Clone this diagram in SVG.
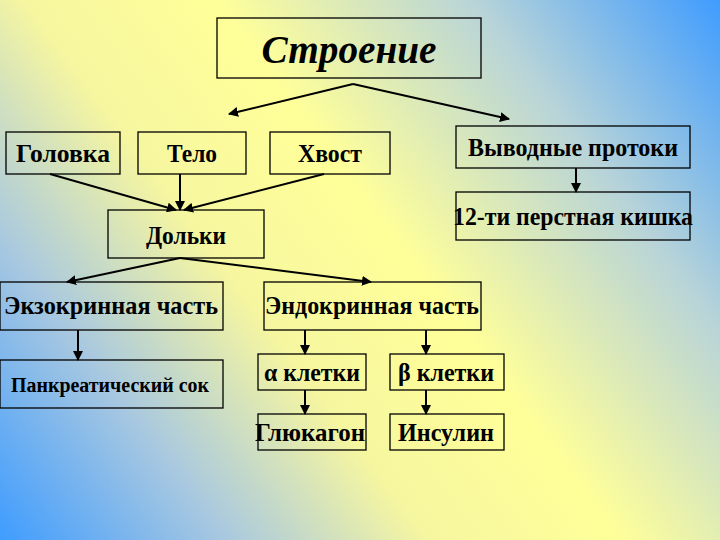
<svg xmlns="http://www.w3.org/2000/svg" width="720" height="540" viewBox="0 0 720 540">
<defs>
<linearGradient id="bg" gradientUnits="userSpaceOnUse" x1="720" y1="0" x2="0" y2="540">
<stop offset="0" stop-color="#3f9cff"/>
<stop offset="0.22" stop-color="#b8d4d8"/>
<stop offset="0.45" stop-color="#ffff99"/>
<stop offset="0.62" stop-color="#f6f6a0"/>
<stop offset="0.8" stop-color="#a8c8e0"/>
<stop offset="1" stop-color="#3f9cff"/>
</linearGradient>
<marker id="ah" viewBox="0 0 10 10" refX="9" refY="5" markerWidth="5" markerHeight="5" orient="auto"><path d="M0,0 L10,5 L0,10 z" fill="#000"/></marker>
</defs>
<style>
.b{fill:none;stroke:#000;stroke-width:1.3}
.t{font-family:"Liberation Serif","Times New Roman",serif;font-weight:bold;font-size:25px;text-anchor:middle;fill:#000}
.c line{stroke:#000;stroke-width:2;marker-end:url(#ah)}
</style>
<rect width="720" height="540" fill="url(#bg)"/>
<g id="n-title"><rect class="b" x="217" y="18" width="264" height="60"/><text class="t" x="349" y="63" style="font-style:italic;font-size:40px" textLength="175" lengthAdjust="spacingAndGlyphs">Строение</text></g>
<g id="n-golovka"><rect class="b" x="6" y="132" width="114" height="42"/><text class="t" x="63" y="162" textLength="94" lengthAdjust="spacingAndGlyphs">Головка</text></g>
<g id="n-telo"><rect class="b" x="138" y="132" width="108" height="42"/><text class="t" x="192" y="162" textLength="50" lengthAdjust="spacingAndGlyphs">Тело</text></g>
<g id="n-hvost"><rect class="b" x="270" y="132" width="120" height="42"/><text class="t" x="330" y="162" textLength="64" lengthAdjust="spacingAndGlyphs">Хвост</text></g>
<g id="n-vyvod"><rect class="b" x="456" y="126" width="234" height="42"/><text class="t" x="573" y="156" textLength="210" lengthAdjust="spacingAndGlyphs">Выводные протоки</text></g>
<g id="n-kishka"><rect class="b" x="456" y="192" width="234" height="48"/><text class="t" x="573" y="225" textLength="240" lengthAdjust="spacingAndGlyphs">12-ти перстная кишка</text></g>
<g id="n-dolki"><rect class="b" x="108" y="210" width="156" height="48"/><text class="t" x="186" y="244" textLength="80" lengthAdjust="spacingAndGlyphs">Дольки</text></g>
<g id="n-exo"><rect class="b" x="0" y="282" width="223" height="48"/><text class="t" x="111" y="314" textLength="214" lengthAdjust="spacingAndGlyphs">Экзокринная часть</text></g>
<g id="n-endo"><rect class="b" x="264" y="282" width="217" height="48"/><text class="t" x="372" y="314" textLength="214" lengthAdjust="spacingAndGlyphs">Эндокринная часть</text></g>
<g id="n-sok"><rect class="b" x="0" y="360" width="223" height="48"/><text class="t" x="110" y="392" style="font-size:20px" textLength="198" lengthAdjust="spacingAndGlyphs">Панкреатический сок</text></g>
<g id="n-alpha"><rect class="b" x="258" y="354" width="108" height="36"/><text class="t" x="312" y="381" textLength="96" lengthAdjust="spacingAndGlyphs">α клетки</text></g>
<g id="n-beta"><rect class="b" x="390" y="354" width="114" height="36"/><text class="t" x="446" y="381" textLength="96" lengthAdjust="spacingAndGlyphs">β клетки</text></g>
<g id="n-gluk"><rect class="b" x="258" y="414" width="108" height="36"/><text class="t" x="310" y="441" textLength="110" lengthAdjust="spacingAndGlyphs">Глюкагон</text></g>
<g id="n-insul"><rect class="b" x="390" y="414" width="114" height="36"/><text class="t" x="446" y="441" textLength="96" lengthAdjust="spacingAndGlyphs">Инсулин</text></g>
<g id="connectors" class="c">
<line x1="353" y1="84" x2="229" y2="114"/>
<line x1="353" y1="84" x2="509" y2="119"/>
<line x1="50" y1="174" x2="176" y2="210"/>
<line x1="180" y1="174" x2="180" y2="210"/>
<line x1="324" y1="174" x2="184" y2="210"/>
<line x1="576" y1="168" x2="576" y2="192"/>
<line x1="180" y1="258" x2="67" y2="282"/>
<line x1="180" y1="258" x2="371" y2="282"/>
<line x1="78" y1="330" x2="78" y2="360"/>
<line x1="305" y1="330" x2="305" y2="354"/>
<line x1="426" y1="330" x2="426" y2="354"/>
<line x1="305" y1="390" x2="305" y2="414"/>
<line x1="426" y1="390" x2="426" y2="414"/>
</g>
</svg>
